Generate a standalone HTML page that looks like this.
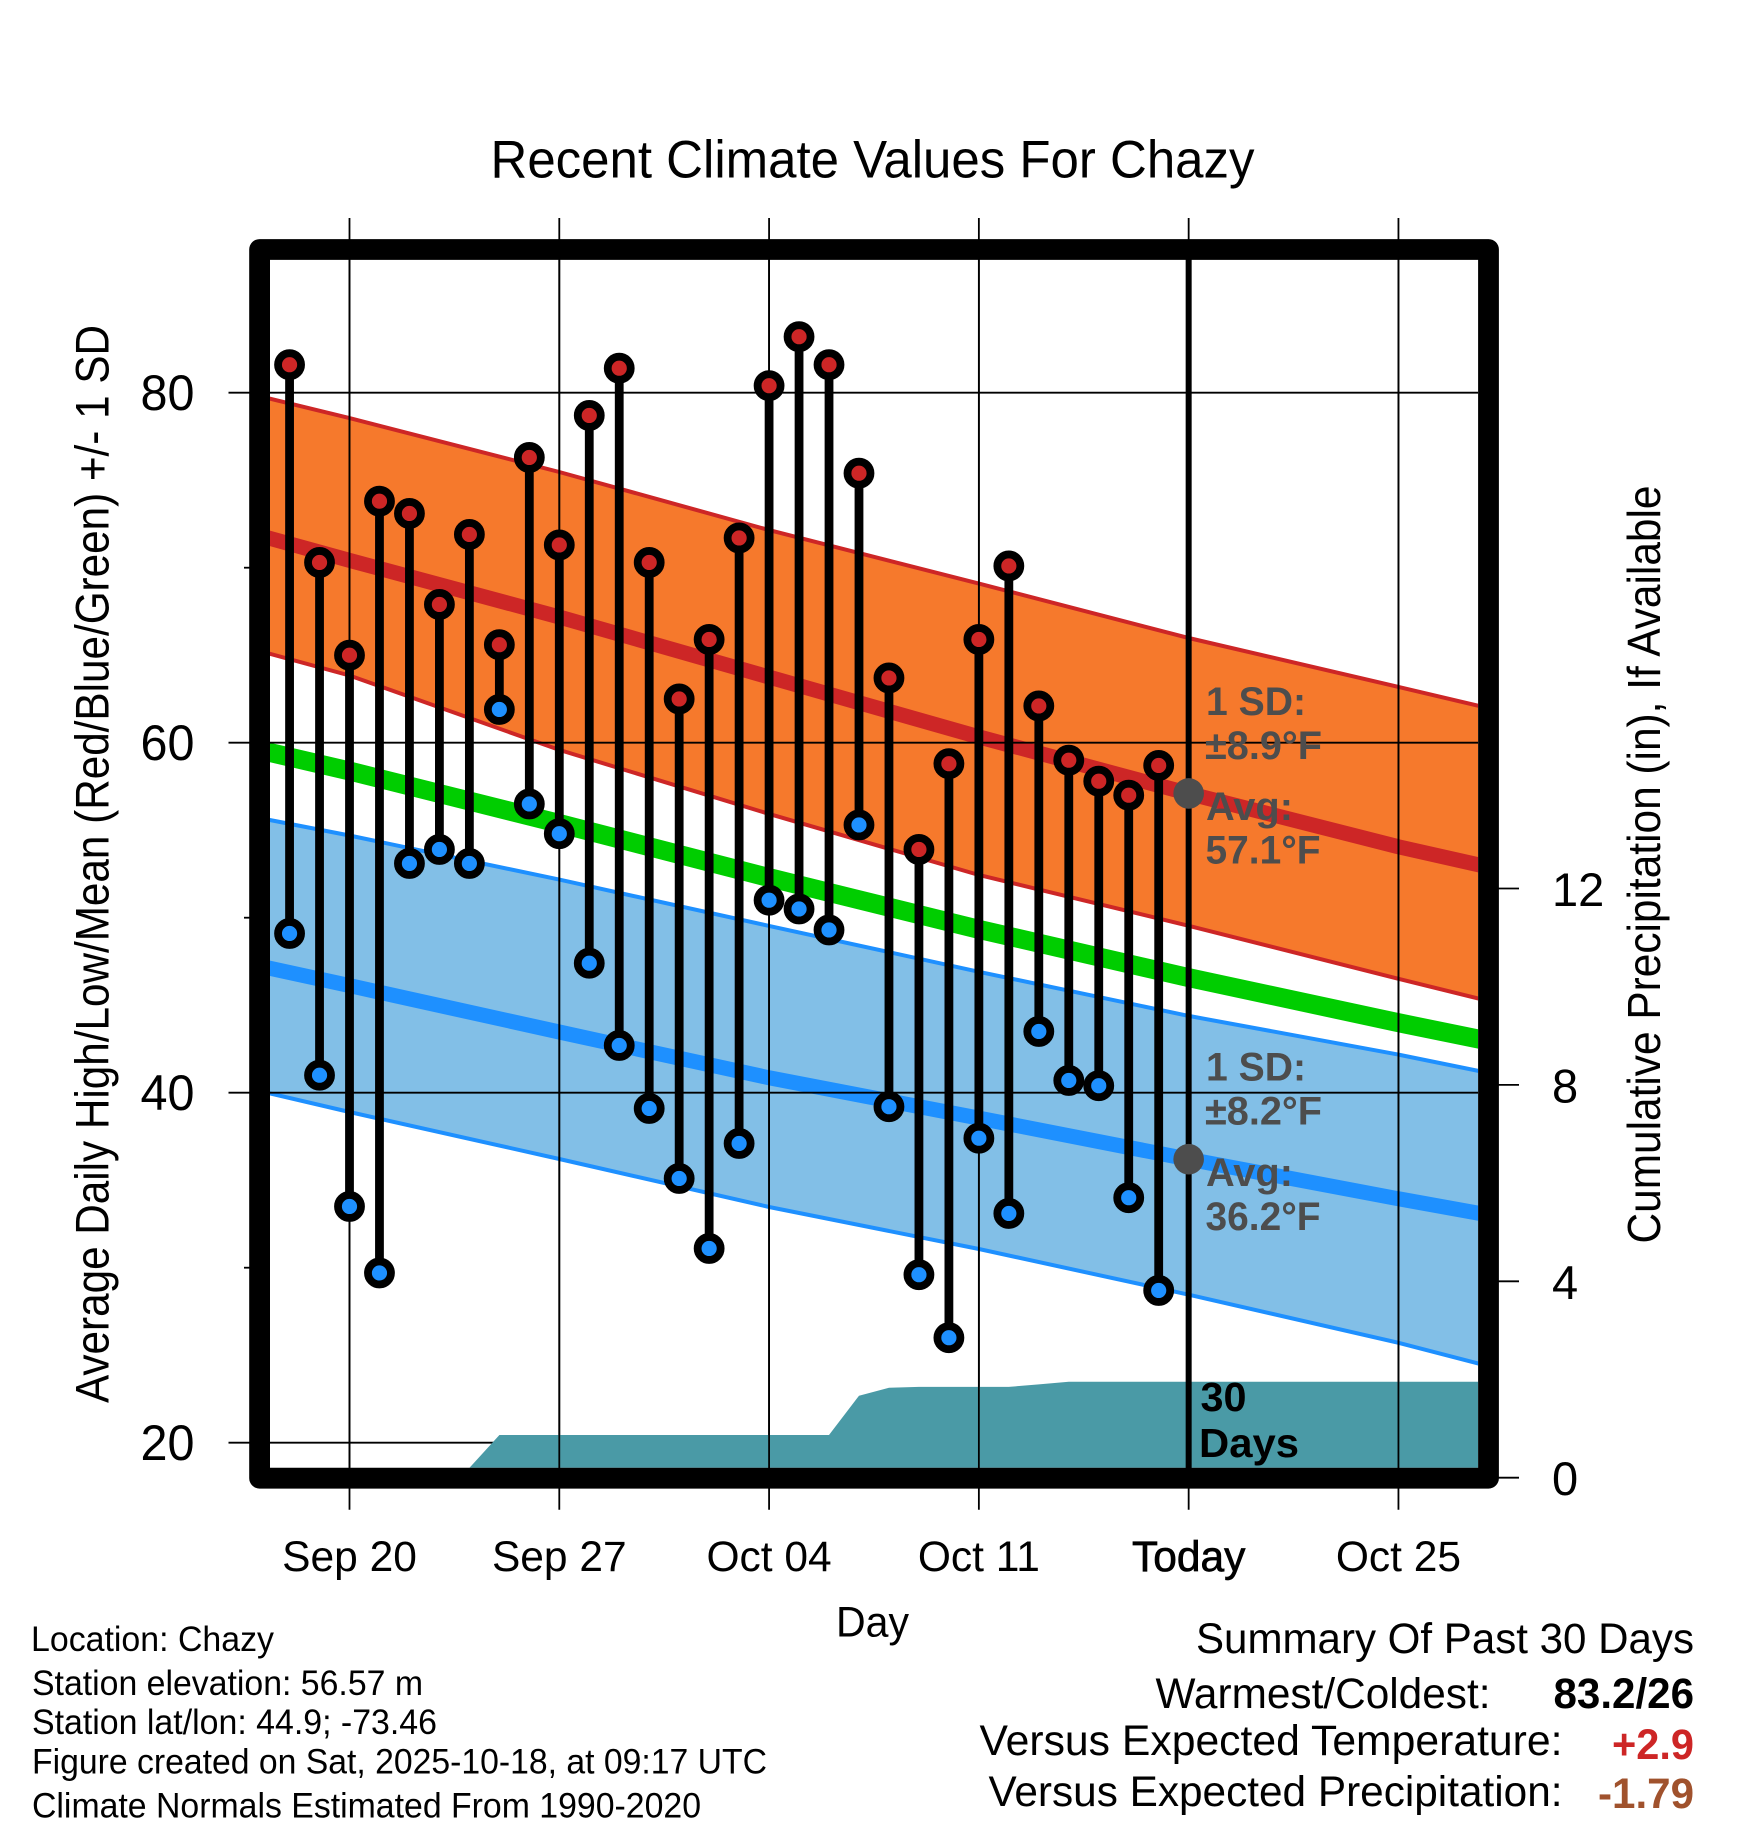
<!DOCTYPE html>
<html lang="en">
<head>
<meta charset="utf-8">
<title>Recent Climate Values For Chazy</title>
<style>
html,body{margin:0;padding:0;background:#fff;}
svg{display:block;}
text{font-family:"Liberation Sans",Arial,sans-serif;fill:#000;}
.bold{font-weight:bold;}
.note{font-weight:bold;fill:#4d4d4d;font-size:40px;}
</style>
</head>
<body>
<svg id="chart" xmlns="http://www.w3.org/2000/svg" width="1748" height="1828" viewBox="0 0 1748 1828">
  <defs>
    <clipPath id="plot-clip"><rect x="269.8" y="259.8" width="1208.2" height="1208"/></clipPath>
  </defs>
  <rect x="0" y="0" width="1748" height="1828" fill="#fff"/>
  <g id="plot" clip-path="url(#plot-clip)">
    <g id="bands"></g>
    <g id="grid"></g>
    <g id="precip"></g>
  </g>
  <g id="outer-grid"></g>
  <rect x="259.6" y="249.5" width="1228.9" height="1228.7" fill="none" stroke="#000" stroke-width="20.8" stroke-linejoin="round"/>
  <g id="today-layer"></g>
  <g id="marks"></g>
  <g id="tick-labels"></g>

  <text x="490.5" y="177.5" font-size="53" textLength="764" lengthAdjust="spacingAndGlyphs">Recent Climate Values For Chazy</text>
  <text transform="translate(108.3,1403) rotate(-90)" font-size="47" textLength="1078" lengthAdjust="spacingAndGlyphs">Average Daily High/Low/Mean (Red/Blue/Green) +/- 1 SD</text>
  <text transform="translate(1660,1243.5) rotate(-90)" font-size="46" textLength="758" lengthAdjust="spacingAndGlyphs">Cumulative Precipitation (in), If Available</text>
  <text x="836" y="1636.7" font-size="43" textLength="73" lengthAdjust="spacingAndGlyphs">Day</text>

  <text class="note" x="1206" y="715" textLength="100" lengthAdjust="spacingAndGlyphs">1 SD:</text>
  <text class="note" x="1205" y="759" textLength="117" lengthAdjust="spacingAndGlyphs">±8.9°F</text>
  <text class="note" x="1206" y="820" textLength="87" lengthAdjust="spacingAndGlyphs">Avg:</text>
  <text class="note" x="1205.5" y="863.5" textLength="115" lengthAdjust="spacingAndGlyphs">57.1°F</text>
  <text class="note" x="1206" y="1080.5" textLength="100" lengthAdjust="spacingAndGlyphs">1 SD:</text>
  <text class="note" x="1205" y="1124.5" textLength="117" lengthAdjust="spacingAndGlyphs">±8.2°F</text>
  <text class="note" x="1206" y="1186" textLength="87" lengthAdjust="spacingAndGlyphs">Avg:</text>
  <text class="note" x="1205.5" y="1230" textLength="115" lengthAdjust="spacingAndGlyphs">36.2°F</text>

  <text class="bold" x="1200.5" y="1411" font-size="41" textLength="46" lengthAdjust="spacingAndGlyphs">30</text>
  <text class="bold" x="1199" y="1457" font-size="41" textLength="100" lengthAdjust="spacingAndGlyphs">Days</text>

  <text x="31" y="1651" font-size="35" textLength="243" lengthAdjust="spacingAndGlyphs">Location: Chazy</text>
  <text x="32" y="1695" font-size="35" textLength="391" lengthAdjust="spacingAndGlyphs">Station elevation: 56.57 m</text>
  <text x="32" y="1734" font-size="35" textLength="405" lengthAdjust="spacingAndGlyphs">Station lat/lon: 44.9; -73.46</text>
  <text x="32" y="1773.5" font-size="35" textLength="735" lengthAdjust="spacingAndGlyphs">Figure created on Sat, 2025-10-18, at 09:17 UTC</text>
  <text x="32" y="1817.5" font-size="35" textLength="669" lengthAdjust="spacingAndGlyphs">Climate Normals Estimated From 1990-2020</text>

  <text x="1196" y="1653" font-size="43" textLength="498" lengthAdjust="spacingAndGlyphs">Summary Of Past 30 Days</text>
  <text x="1155.5" y="1708" font-size="43" textLength="335" lengthAdjust="spacingAndGlyphs">Warmest/Coldest:</text>
  <text class="bold" x="1553.5" y="1708" font-size="43" textLength="140.5" lengthAdjust="spacingAndGlyphs">83.2/26</text>
  <text x="979.5" y="1755" font-size="43" textLength="583" lengthAdjust="spacingAndGlyphs">Versus Expected Temperature:</text>
  <text class="bold" x="1612" y="1759" font-size="43" textLength="82" lengthAdjust="spacingAndGlyphs" style="fill:#cd2626">+2.9</text>
  <text x="988.5" y="1806" font-size="43" textLength="574" lengthAdjust="spacingAndGlyphs">Versus Expected Precipitation:</text>
  <text class="bold" x="1598" y="1808" font-size="43" textLength="96" lengthAdjust="spacingAndGlyphs" style="fill:#a0522d">-1.79</text>
</svg>

<script>
// ---- data ----
const days = ['Sep 18','Sep 19','Sep 20','Sep 21','Sep 22','Sep 23','Sep 24','Sep 25','Sep 26','Sep 27',
              'Sep 28','Sep 29','Sep 30','Oct 01','Oct 02','Oct 03','Oct 04','Oct 05','Oct 06','Oct 07',
              'Oct 08','Oct 09','Oct 10','Oct 11','Oct 12','Oct 13','Oct 14','Oct 15','Oct 16','Oct 17'];
const dailyHigh = [81.6,70.3,65.0,73.8,73.1,67.9,71.9,65.6,76.3,71.3,
                   78.7,81.4,70.3,62.5,65.9,71.7,80.4,83.2,81.6,75.4,
                   63.7,53.9,58.8,65.9,70.1,62.1,59.0,57.8,57.0,58.7];
const dailyLow  = [49.1,41.0,33.5,29.7,53.1,53.9,53.1,61.9,56.5,54.8,
                   47.4,42.7,39.1,35.1,31.1,37.1,51.0,50.5,49.3,55.3,
                   39.2,29.6,26.0,37.4,33.1,43.5,40.7,40.4,34.0,28.7];
const cumulativePrecip = [0,0,0,0,0,0,0.2,0.87,0.87,0.87,
                          0.87,0.87,0.87,0.87,0.87,0.87,0.87,0.87,0.87,1.67,
                          1.83,1.85,1.85,1.85,1.85,1.9,1.955,1.955,1.955,1.955];
const normalDates  = ['Sep 17','Sep 20','Sep 27','Oct 04','Oct 11','Oct 18','Oct 25','Oct 28'];
const normalHighUpper = [79.8,78.55,75.47,72.15,69.09,65.98,63.19,61.98];
const normalHigh      = [71.84,70.42,67.18,63.75,60.33,57.1,54.05,52.9];
const normalHighLower = [65.24,63.84,59.59,55.93,52.44,49.54,46.51,45.24];
const normalMean      = [59.58,58.38,55.38,52.29,49.33,46.58,44.0,42.95];
const normalLowUpper  = [55.7,54.7,52.18,49.53,46.91,44.39,42.18,41.13];
const normalLow       = [47.24,46.12,43.47,40.85,38.55,36.2,33.94,33.01];
const normalLowLower  = [40.1,38.9,36.21,33.47,31.07,28.46,25.71,24.38];
const xTickDates  = ['Sep 20','Sep 27','Oct 04','Oct 11','Oct 18','Oct 25'];
const xTickLabels = ['Sep 20','Sep 27','Oct 04','Oct 11','Today','Oct 25'];
const yMajorTicks = [20,40,60,80];
const yMinorTicks = [30,50,70];
const precipTicks = [0,4,8,12];
const todayDate = 'Oct 18';
const todayHighNormal = 57.1;
const todayLowNormal = 36.2;
const axisEndDate = 'Oct 28';

// ---- axis functions ----
function dayNumber(label){
  const p = label.split(' ');
  return p[0] === 'Sep' ? Number(p[1]) - 20 : Number(p[1]) + 10;
}
function xScale(label){ return 349.5 + dayNumber(label) * 29.97; }
function yScale(t){ return 1442.7 - (t - 20) * 17.5; }
function pScale(p){ return 1477.7 - p * 49.1; }

const NS = 'http://www.w3.org/2000/svg';
function make(tag, parent){
  const el = document.createElementNS(NS, tag);
  parent.appendChild(el);
  return el;
}
function setAll(el, props){
  Object.keys(props).forEach(function(k){ el.setAttribute(k, props[k]); });
}
function linePoints(vals){
  return normalDates.map(function(d, i){ return xScale(d).toFixed(1) + ',' + yScale(vals[i]).toFixed(1); });
}
function bandPoints(top, bottom){
  return linePoints(top).concat(linePoints(bottom).reverse()).join(' ');
}

const bands = document.getElementById('bands');
const grid = document.getElementById('grid');
const precip = document.getElementById('precip');
const outer = document.getElementById('outer-grid');
const todayLayer = document.getElementById('today-layer');
const marks = document.getElementById('marks');
const labels = document.getElementById('tick-labels');

// ---- normal bands ----
const highBand = make('polygon', bands);


setAll(highBand, {points: bandPoints(normalHighUpper, normalHighLower), fill: '#f6792c'});

const lowBand = make('polygon', bands);


setAll(lowBand, {points: bandPoints(normalLowUpper, normalLowLower), fill: '#82bfe7'});

const highUpperLine = make('polyline', bands);


setAll(highUpperLine, {points: linePoints(normalHighUpper).join(' '), fill: 'none', stroke: '#cd2626', 'stroke-width': 4});

const highLowerLine = make('polyline', bands);


setAll(highLowerLine, {points: linePoints(normalHighLower).join(' '), fill: 'none', stroke: '#cd2626', 'stroke-width': 4});

const lowUpperLine = make('polyline', bands);


setAll(lowUpperLine, {points: linePoints(normalLowUpper).join(' '), fill: 'none', stroke: '#1e90ff', 'stroke-width': 4});

const lowLowerLine = make('polyline', bands);


setAll(lowLowerLine, {points: linePoints(normalLowLower).join(' '), fill: 'none', stroke: '#1e90ff', 'stroke-width': 4});

const highLine = make('polyline', bands);


setAll(highLine, {points: linePoints(normalHigh).join(' '), fill: 'none', stroke: '#cd2626', 'stroke-width': 15});

const meanLine = make('polyline', bands);


setAll(meanLine, {points: linePoints(normalMean).join(' '), fill: 'none', stroke: '#00cd00', 'stroke-width': 19});

const lowLine = make('polyline', bands);


setAll(lowLine, {points: linePoints(normalLow).join(' '), fill: 'none', stroke: '#1e90ff', 'stroke-width': 15});

// ---- grid, ticks and tick labels ----
yMajorTicks.forEach(function(t){
  const g = make('line', grid);
  
  
  setAll(g, {x1: 260, x2: 1480, y1: yScale(t), y2: yScale(t), stroke: '#000', 'stroke-width': 1.8});

  const tk = make('line', outer);
  
  
  setAll(tk, {x1: 228.5, x2: 252, y1: yScale(t), y2: yScale(t), stroke: '#000', 'stroke-width': 1.8});

  const lb = make('text', labels);
  
  
  setAll(lb, {x: 140.5, y: yScale(t) + 17.5, 'font-size': 50, textLength: 54, lengthAdjust: 'spacingAndGlyphs'});
  lb.textContent = String(t);
});
yMinorTicks.forEach(function(t){
  const tk = make('line', outer);
  
  
  setAll(tk, {x1: 244, x2: 252, y1: yScale(t), y2: yScale(t), stroke: '#000', 'stroke-width': 1.8});
});
xTickDates.forEach(function(d, i){
  const g = make('line', grid);
  
  
  setAll(g, {x1: xScale(d), x2: xScale(d), y1: 250, y2: 1480, stroke: '#000', 'stroke-width': 1.8});

  const tk = make('line', outer);
  
  
  setAll(tk, {x1: xScale(d), x2: xScale(d), y1: 218, y2: 1509.7, stroke: '#000', 'stroke-width': 1.8});

  const lb = make('text', labels);
  
  
  setAll(lb, {x: xScale(d), y: 1571, 'font-size': 42.5, 'text-anchor': 'middle'});
  if (xTickLabels[i] === 'Today') { setAll(lb, {stroke: '#000', 'stroke-width': 0.7}); }
  lb.textContent = xTickLabels[i];
});
precipTicks.forEach(function(p){
  const tk = make('line', outer);
  
  
  setAll(tk, {x1: 1495, x2: 1519, y1: pScale(p), y2: pScale(p), stroke: '#000', 'stroke-width': 1.8});

  const lb = make('text', labels);
  
  
  setAll(lb, {x: 1552, y: pScale(p) + 17.5, 'font-size': 47});
  lb.textContent = String(p);
});

// ---- cumulative precipitation area ----
const precipPts = days.map(function(d, i){ return xScale(d).toFixed(1) + ',' + pScale(cumulativePrecip[i]).toFixed(1); });
precipPts.push(xScale(axisEndDate).toFixed(1) + ',' + pScale(cumulativePrecip[cumulativePrecip.length - 1]).toFixed(1));
precipPts.push(xScale(axisEndDate).toFixed(1) + ',' + pScale(0).toFixed(1));
precipPts.unshift(xScale(days[0]).toFixed(1) + ',' + pScale(0).toFixed(1));
const precipArea = make('polygon', precip);


setAll(precipArea, {points: precipPts.join(' '), fill: '#4a9aa6'});

// ---- today line and normal markers ----
const todayLine = make('line', todayLayer);


setAll(todayLine, {x1: xScale(todayDate), x2: xScale(todayDate), y1: 255, y2: 1470, stroke: '#000', 'stroke-width': 6});

const todayHighDot = make('circle', todayLayer);


setAll(todayHighDot, {cx: xScale(todayDate), cy: yScale(todayHighNormal), r: 15.3, fill: '#4d4d4d'});

const todayLowDot = make('circle', todayLayer);


setAll(todayLowDot, {cx: xScale(todayDate), cy: yScale(todayLowNormal), r: 15.3, fill: '#4d4d4d'});

// ---- daily high/low lollipops ----
days.forEach(function(d, i){
  const stem = make('line', marks);
  
  
  setAll(stem, {x1: xScale(d), x2: xScale(d), y1: yScale(dailyHigh[i]), y2: yScale(dailyLow[i]), stroke: '#000', 'stroke-width': 8.8});
});
days.forEach(function(d, i){
  const hi = make('circle', marks);
  
  
  setAll(hi, {cx: xScale(d), cy: yScale(dailyHigh[i]), r: 11.5, fill: '#cd2626', stroke: '#000', 'stroke-width': 7.8});

  const lo = make('circle', marks);
  
  
  setAll(lo, {cx: xScale(d), cy: yScale(dailyLow[i]), r: 11.5, fill: '#1e90ff', stroke: '#000', 'stroke-width': 7.8});
});
</script>
</body>
</html>
